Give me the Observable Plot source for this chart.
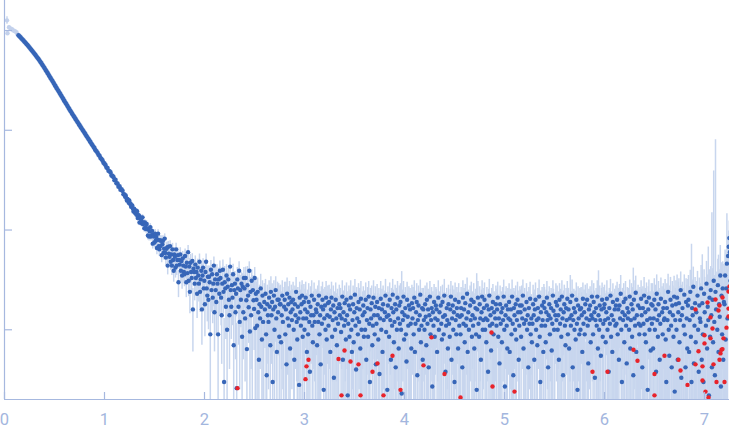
<!DOCTYPE html>
<html><head><meta charset="utf-8">
<script src="https://cdn.jsdelivr.net/npm/d3@7"></script>
<script src="https://cdn.jsdelivr.net/npm/@observablehq/plot@0.6"></script>
<style>html,body{margin:0;padding:0;background:#fff}</style>
</head><body><div id="chart"></div>
<script>
// axis ticks
const xTicks = [0, 1, 2, 3, 4, 5, 6, 7];
const yTicks = [1, 10, 100, 1000];

// excluded low-q points (pale)
const paleQ = [0.025, 0.03, 0.045, 0.06, 0.075, 0.09, 0.105, 0.12, 0.13];
const paleI = [1265, 940, 1080, 1050, 1030, 1000, 985, 960, 916];
const paleSigma = [110, 40, 30, 20, 15, 12, 10, 10, 9];

// smooth low-q part: q = 0.14 .. 1.19, step 0.01
const qA0 = 0.14, qAStep = 0.01;
const intensityA = [
895,874,854,833,813,793,773,753,733,714,694,675,657,638,620,602,585,567,550,533,
517,500,484,468,452,436,421,405,390,376,362,348,
335,323,311,299,288,277,266,256,247,238,229,220,212,204,196,189,182,175,168,162,
156,150.5,145,139.7,134.7,
130,125.4,121,116.7,112.6,108.7,104.9,101.2,97.6,94.2,90.9,87.7,84.6,81.6,78.8,76,73.3,70.7,68.3,
66.2,63.1,61.6,59.5,56.8,55.6,52.7,51.5,49.9,47.2,46.3,44.9,42.4,41.9,39.3,38.9,37.8,35.2,34.9,33.9,
31.6,31.8,29.4,29.3,27.2,27.5,25.4,25.6,24.7,22.8
];

// noisy part: q = 1.20 .. , step 0.006 (rows of 20 points)
const qB0 = 1.2, qBStep = 0.006;
const intensityB = [
22.7,21.6,22.2,20.9,19.8,20.5,19.9,18.8,19.8,18.3,18.5,17.1,17.4,17.6,16.3,15.3,16.4,15.8,14.7,15.6,
14.2,15.4,13.2,14.1,14.0,11.9,13.2,13.4,12.4,11.6,13.4,11.5,11.9,10.4,11.9,10.7,10.2,11.5,10.3,8.8,
10.3,8.6,9.7,10.7,8.6,8.9,9.8,7.3,9.0,8.6,7.5,9.2,7.8,8.5,6.6,8.0,9.2,6.9,6.4,7.9,
6.9,7.8,5.6,7.2,7.8,5.9,6.5,8.2,5.9,5.3,6.5,6.7,4.4,6.8,5.8,5.4,6.9,4.8,5.7,4.4,
6.4,5.0,3.9,5.7,5.4,4.2,6.4,4.4,5.0,5.6,3.0,5.0,4.5,5.7,3.9,4.9,3.5,5.2,4.4,3.8,
3.6,5.5,4.3,3.0,4.7,3.7,6.0,3.1,4.3,2.4,4.7,3.8,3.3,4.9,1.6,4.1,3.8,2.9,4.5,3.3,
3.8,2.3,4.2,3.5,2.9,4.8,2.4,3.2,3.9,1.6,3.5,4.2,2.6,3.1,1.8,3.8,4.8,2.6,2.2,3.4,
2.0,3.4,3.0,0.9,4.0,2.5,3.6,2.1,2.9,4.4,1.5,3.2,2.5,1.9,3.6,2.9,0.9,3.2,2.3,3.9,
3.3,2.1,1.4,2.9,4.0,2.4,0.3,3.0,2.6,1.7,3.5,1.0,2.7,3.2,2.0,1.4,4.3,2.5,1.7,2.8,
2.1,3.6,0.7,2.5,2.9,1.5,2.3,0.26,3.2,2.6,1.7,3.9,1.2,2.5,2.0,2.9,0.85,2.7,1.5,3.3,
2.6,1.3,3.3,1.98,0.64,2.8,2.2,1.68,3.9,0.96,2.4,1.4,3.1,0.07,2.5,1.98,1.62,3.3,1.04,2.3,
2.0,1.1,2.4,1.5,0.5,1.8,1.3,2.6,1.7,0.8,2.2,1.2,-0.1,1.9,1.6,2.3,0.9,0.35,1.8,1.4,
1.2,2.1,1.7,0.7,2.4,1.4,1.9,0.3,1.6,2.2,1.0,1.7,2.5,1.3,0.6,2.0,1.5,2.0,0.85,1.8,
1.8,0.75,1.4,2.2,1.2,-0.2,1.7,2.0,0.9,1.6,0.45,2.3,1.3,1.8,1.1,2.1,0.65,1.5,1.9,1.25,
1.6,2.0,1.0,0.5,1.8,1.4,2.4,1.2,0.8,1.7,1.3,0.28,2.1,1.5,1.1,1.8,2.2,0.85,1.3,1.9,
1.0,1.6,2.1,1.3,0.6,1.5,0.9,1.9,1.2,0.38,1.7,1.4,2.2,1.1,0.75,1.4,2.0,1.2,-0.3,1.6,
1.5,0.7,1.8,1.2,2.2,0.9,1.4,0.45,1.7,1.15,2.0,1.6,0.25,1.3,1.75,1.0,2.1,0.8,1.4,1.85,
1.1,1.9,1.35,0.6,1.6,2.1,0.85,1.25,1.75,0.33,1.5,1.0,2.0,1.3,0.7,1.65,1.15,-0.2,1.8,1.4,
1.65,0.95,1.3,2.15,0.5,1.5,1.1,1.85,1.25,0.8,2.0,1.4,0.22,1.15,1.75,0.85,1.6,2.1,1.0,0.6,
1.25,1.8,0.75,1.5,2.25,1.1,0.4,1.65,1.3,0.9,1.9,1.2,1.6,0.65,2.05,1.0,-0.25,1.4,1.75,0.85,
1.5,1.0,2.0,0.5,1.25,1.65,0.85,2.15,1.15,0.3,1.6,1.3,1.85,0.7,1.1,2.1,1.4,0.9,1.7,0.45,
1.15,1.9,1.4,0.8,1.65,0.36,1.3,2.05,1.0,1.6,0.6,1.8,1.25,-0.1,1.5,2.2,0.95,1.35,0.25,1.75,
1.4,0.85,2.0,1.25,0.5,1.65,1.1,2.25,1.5,0.75,1.2,1.8,0.42,1.6,1.0,2.1,1.3,0.65,1.75,1.15,
1.9,1.0,0.23,1.5,1.25,2.15,0.8,1.4,1.65,0.9,0.48,2.0,1.35,1.1,1.75,-0.3,1.6,1.15,0.65,1.85,
1.3,1.65,0.9,2.1,0.6,1.15,1.5,1.9,0.35,1.25,1.75,1.0,1.4,2.25,0.75,1.1,1.65,0.5,1.6,1.25,
1.0,1.8,1.35,0.7,2.0,1.15,1.6,0.42,1.4,2.15,0.9,1.25,1.65,0.27,1.5,1.1,1.9,0.85,1.3,1.75,
1.6,0.6,1.25,2.1,1.0,1.5,-0.2,1.75,1.15,0.8,1.9,1.35,0.9,2.2,1.4,0.38,1.1,1.65,1.25,0.65,
1.8,1.15,0.85,1.6,2.15,0.5,1.3,1.75,1.0,1.5,0.3,2.0,1.25,0.9,1.65,1.4,0.65,1.9,1.1,1.35,
0.9,1.65,1.4,0.42,2.1,1.15,1.6,0.75,1.85,1.1,1.3,2.3,0.6,1.5,1.0,-0.35,1.75,1.25,2.0,0.85,
1.4,1.1,1.9,0.65,1.3,1.65,0.9,0.25,1.6,2.1,1.15,0.85,1.8,1.3,0.5,1.5,2.15,1.0,1.25,1.65,
2.0,1.0,1.3,0.75,1.75,1.25,0.38,1.6,2.2,1.1,1.4,0.62,1.65,1.15,1.9,0.9,1.5,-0.1,1.3,1.8,
1.1,1.6,2.1,0.85,1.3,0.46,1.8,1.15,1.5,0.75,1.65,1.25,2.15,1.0,0.27,1.4,1.75,1.1,0.65,1.6,
1.3,1.9,0.6,1.25,1.6,0.9,2.15,1.15,0.35,1.65,1.4,1.0,1.8,0.8,1.25,2.0,1.5,0.5,1.1,1.75,
1.5,0.85,1.75,1.3,2.2,0.65,1.15,1.6,-0.25,1.25,1.9,1.0,1.4,0.42,1.65,1.15,2.05,0.9,1.3,0.75,
1.15,1.8,1.4,0.5,1.6,2.0,1.0,1.25,0.7,1.65,1.3,2.15,0.85,0.3,1.5,1.1,1.75,1.25,0.6,1.9,
1.65,1.1,0.75,1.5,2.1,1.25,0.42,1.4,1.8,0.9,1.3,1.65,0.62,1.15,2.2,1.55,1.0,-0.2,1.4,1.9,
1.25,1.75,1.0,1.4,0.5,2.0,1.15,1.6,0.85,2.15,1.3,0.35,1.5,1.8,1.1,0.7,1.65,1.25,2.05,0.9,
1.6,0.65,1.3,1.9,1.1,1.4,2.2,0.42,1.25,1.65,1.0,1.5,0.8,2.0,1.15,0.25,1.75,1.3,0.9,1.6,
1.0,1.65,1.4,0.6,2.05,1.15,1.5,0.9,1.8,-0.2,1.3,2.0,1.1,0.46,1.6,1.25,1.75,0.75,1.4,2.15,
1.3,0.9,1.9,1.5,0.33,1.25,1.65,1.1,2.15,0.65,1.4,1.0,1.75,1.25,0.55,1.6,2.0,0.85,1.15,1.65,
1.8,1.25,0.75,1.5,2.05,1.0,1.3,0.38,1.65,1.15,2.2,0.85,1.4,0.6,1.9,1.25,-0.3,1.6,1.1,1.75,
1.15,2.0,0.9,1.6,0.5,1.75,1.3,2.3,1.0,0.3,1.5,1.25,1.9,0.75,1.4,2.05,1.1,0.46,1.65,1.3,
1.5,1.0,2.15,0.65,1.25,1.8,0.85,1.6,0.35,2.0,1.3,1.1,2.35,0.6,1.4,-0.35,1.75,1.15,0.9,1.65,
1.1,2.05,1.4,0.42,1.65,1.15,2.2,0.9,1.5,0.75,1.9,1.25,0.25,1.6,2.1,1.0,1.3,0.62,1.8,1.15,
1.75,0.65,1.3,2.0,1.0,1.6,0.38,2.3,1.25,0.85,1.8,1.4,0.5,1.15,2.05,-0.2,1.5,0.9,1.65,1.25,
1.3,1.9,0.8,0.3,1.65,1.25,2.4,1.0,0.55,1.5,2.0,1.1,0.42,1.75,1.4,0.85,2.15,0.24,1.25,1.8,
1.0,2.1,0.5,1.5,1.85,0.75,1.25,2.5,0.33,1.4,1.65,-0.3,1.1,2.25,0.9,0.42,1.9,1.3,0.65,1.75,
2.0,0.6,1.25,2.4,0.85,0.3,1.65,1.4,2.7,0.46,1.1,1.85,0.75,1.5,-0.5,2.2,1.0,0.38,1.75,1.3,
1.2,2.6,0.5,1.85,0.9,0.3,2.3,1.5,-0.4,1.1,2.9,0.65,1.7,1.25,0.22,2.1,0.85,2.5,1.4,0.42,
2.0,0.75,3.1,1.2,0.35,2.4,1.6,-0.6,1.0,2.8,0.6,1.8,1.35,3.5,0.27,2.2,0.9,2.6,0.5,1.9,
1.8,3.5,0.8,2.6,4.6,1.3,5.5,6.8,8.3,6.0,3.1,1.5,4.2,2.0,5.0,0.9,3.6,2.4,6.5,1.7
];
const sigmaB = [
.8,.85,.8,.9,.85,.8,.85,.9,.8,.85,.9,.8,.85,.8,.9,.85,.8,.85,.9,.85,
.85,.9,.85,.8,.9,.85,.9,.85,.8,.9,.85,.9,.85,.9,.8,.85,.9,.85,.9,.85,
.9,.85,.9,.9,.85,.95,.9,.85,.9,.95,.85,.9,.9,.85,.95,.9,.85,.9,.95,.9,
.9,.95,.9,.85,.95,.9,.9,.95,.85,.9,.95,.9,.85,.9,.95,.9,.9,.85,.95,.9,
.95,.9,.9,.95,1,.9,.95,.9,.95,1,.9,.95,.9,.95,.9,1,.95,.9,.95,.9,
.9,.95,1,.9,.95,.9,1,.95,.9,.95,1,.9,.95,.9,1,.95,.9,.95,1,.9,
.95,1,.9,.95,1,.95,.9,1,.95,.9,1,.95,1,.9,.95,1,.95,.9,1,.95,
1,.95,.9,1,.95,1,.9,.95,1.2,.95,.9,1,.95,1,.9,.95,1,.95,.9,1,
.95,1,.95,.9,1,.95,1,1.3,.95,.9,1,.95,1,.9,.95,1,.95,1,.9,.95,
1,.95,.9,1,.95,1,.95,.9,1,.95,1,.9,.95,1,.95,.9,1,.95,1,.9,
.95,1,.95,1,.9,1.5,1,.95,.9,1,.95,1,.9,.95,1,.95,1,.9,.95,1,
1,.95,.9,1,.95,1,.9,1,.95,1,.9,1,.95,1,.95,.9,1,.95,1,.95,
.95,1,.95,.9,1,.95,1,.95,1,.9,1,.95,.9,1,.95,1,.95,.9,1,.95,
1,.95,1,.9,.95,1,.95,1,.9,1.4,.95,1,.95,.9,1,.95,1,.95,.9,1,
.95,1,.9,1,.95,1,.95,.9,1,.95,1,.95,.9,1,.95,1,.9,.95,1,.95,
1,.95,.9,1,.95,1,.95,1,.9,.95,1,.95,.9,1,.95,1,.95,.9,1,.95,
.95,1,.95,1,.9,.95,1,.95,1,.9,1,.95,1,.95,.9,1,.95,1,.95,.9,
1,.9,.95,1,.95,.9,1,.95,1,.95,.9,1,.95,1,.95,.9,1,.95,1,.95,
.95,1,.9,.95,1,.95,1,.9,.95,1,.95,1,.9,.95,1,.95,.9,1,.95,1,
1,.95,1,.9,.95,1,.95,1,.9,.95,1,.95,1,.9,1,.95,.9,1,.95,1,
.95,1,.95,1,.9,1,.95,.9,1,.95,1,.95,.9,1,.95,1,.9,.95,1,.95,
1,.95,.9,1,.95,1,.95,1,.9,.95,1,.95,1,.9,.95,1,.95,1,.9,.95,
.95,1,.95,.9,1,.95,1,.95,1,.9,.95,1,.95,1,.9,.95,1,.95,1,.95,
1,.95,3.6,1,.95,.9,1,.95,1,.95,.9,1,.95,1,.95,.9,1,.95,1,.95,
.95,1,.9,1,.95,1,.95,1,.9,.95,1,.95,1,.9,.95,1,.95,.9,1,.95,
1,.95,1,.9,.95,1,.95,1,.95,.9,1,.95,1,.95,.9,1,.95,1,.95,.9,
.95,1,.95,1,.95,.9,1,.95,1,.95,.9,1,.95,1,.95,1,.9,.95,1,.95,
1,.95,1,.95,.9,1,.95,1,.95,1,.9,.95,1,.95,1,.95,.9,1,.95,1,
.95,1,.95,.9,1,.95,1,.95,1,.9,.95,1,.95,1,.95,.9,1,.95,1,.95,
1,.95,1,.95,1,.9,.95,3.4,1,.95,1,.95,.9,1,.95,1,.95,.9,1,.95,
.95,1,.95,1,.9,.95,1,.95,1,.95,.9,1,.95,1,.95,1,.9,.95,1,.95,
1,.95,.9,1,.95,1,.95,1,.9,.95,1,.95,1,.95,.9,1,.95,1,.95,1,
.95,1,.95,1,.95,.9,1,.95,1,.95,1,.9,.95,1,.95,1,.95,.9,1,.95,
1,.95,1,.9,.95,1,.95,1,.95,.9,1,.95,1,.95,1,.9,.95,1,.95,1,
.95,1,.95,1,.9,.95,1,.95,1,.95,.9,1,.95,1,.95,1,.9,.95,1,.95,
1,.95,.9,1,.95,1,.95,1,.9,.95,1,.95,1,.95,.9,1,.95,1,.95,1,
.95,1,.95,1,.95,.9,1,.95,1,.95,1,.9,.95,1,.95,1,.95,.9,1,.95,
1,.95,1,1.6,.95,1,.95,1,.95,.9,1,.95,1,.95,1,.9,.95,1,.95,1,
.95,1,.95,1,.9,.95,1,.95,1,.95,1,.9,.95,1,.95,1,.95,.9,1,.95,
1,.95,1,.95,1,.9,.95,1,.95,1,2.5,.95,1,.95,.9,1,.95,1,.95,1,
1,1.05,1,.95,1.05,1,1.05,1,.95,1.05,1,1.05,1,.95,1,1.05,1,.95,1.05,1,
1.05,1,1.1,1,1.05,1.1,1,1.2,1.05,1,1.1,1.05,1,1.1,1.05,1,1.1,1.05,1,1.1,
1.1,1.05,1,1.1,1.05,1.1,1,1.05,3.8,1.1,1.05,1,1.1,1.05,1.1,1,1.05,1.1,1.05,1,
1.1,1.05,1.15,1.1,1.05,1.1,1.15,1.05,1.1,1.15,1.05,1.1,1.15,1.1,1.05,1.15,1.1,1.05,1.1,1.15,
1.15,1.2,1.1,1.25,1.15,1.2,1.1,1.25,1.2,1.15,1.25,1.2,1.1,1.2,1.25,1.15,1.2,1.1,1.25,1.2,
1.25,1.3,1.2,1.35,1.25,1.3,1.2,1.35,1.3,1.25,1.35,1.3,1.2,1.3,1.35,1.25,1.3,1.2,1.35,1.3,
1.35,1.45,1.3,1.5,1.4,1.35,1.45,1.3,1.5,1.4,1.35,1.45,1.5,1.3,1.4,1.45,1.35,1.5,1.4,1.45,
1.5,1.6,1.45,1.55,1.65,6.9,1.5,1.6,1.55,1.45,1.65,1.5,1.6,1.55,1.5,1.65,1.45,1.6,1.55,1.5,
1.7,1.8,1.65,3.8,1.75,1.9,1.7,1.85,1.65,1.8,1.95,1.7,1.85,5.5,1.75,1.9,1.7,1.8,1.85,14.5,
2.1,2.2,36,2.3,2.0,78,2.2,2.4,2.1,2.3,5,2.2,2.4,3.5,2.1,2.5,2.3,2.2,2.4,2.6,
2.6,2.8,2.5,3,10,2.7,2.9,3,4,2.8,2.6,3,2.9,2.7,3,2.8,2.6,3,2.9,2.7
];

// flagged points (red)
const redQ = [2.33,3.04,3.02,3.01,3.34,3.40,3.46,3.37,3.54,3.68,3.73,3.56,3.79,3.88,3.96,4.19,4.27,4.40,4.56,4.87,4.88,5.10,5.88,6.03,6.29,6.33,6.50,6.50,6.60,6.74,6.76,6.83,6.91,6.91,6.94,6.98,6.98,7.00,7.00,7.01,7.03,7.04,7.06,7.06,7.08,7.09,7.11,7.12,7.14,7.15,7.15,7.16,7.17,7.18,7.18,7.19,7.20,7.22,7.24,7.24,7.24,7.25];
const redI = [0.26,0.50,0.43,0.32,0.51,0.62,0.48,0.22,0.45,0.38,0.46,0.22,0.22,0.55,0.25,0.44,0.84,0.36,0.21,0.94,0.27,0.24,0.38,0.38,0.63,0.49,0.36,0.22,0.55,0.50,0.39,0.28,1.60,0.45,0.61,0.43,0.31,0.88,0.73,0.24,1.88,0.21,1.33,0.82,1.03,0.45,2.01,0.30,1.56,1.75,0.50,0.58,0.63,0.64,2.11,0.82,0.30,1.05,1.36,2.42,1.63,2.72];

// ---- build tables ----
const yMin = 0.2, yMax = 2000, xMax = 7.25;
const pale = paleQ.map((q, i) => ({q, I: paleI[i], s: paleSigma[i]}));
const dataA = intensityA.map((I, i) => ({q: qA0 + i * qAStep, I}));
const dataB = intensityB.map((I, i) => ({q: qB0 + i * qBStep, I, s: sigmaB[i]}));
const red = redQ.map((q, i) => ({q, I: redI[i]}));
const bars = dataB.concat(pale).filter(d => d.I + d.s > yMin).map(d => ({
  q: d.q, lo: Math.max(d.I - d.s, yMin), hi: d.I + d.s
}));

const axisColor = "#a6b8df";
const chart = Plot.plot({
  width: 729, height: 437,
  marginLeft: 4, marginRight: 0, marginTop: 0, marginBottom: 38,
  x: {domain: [0, xMax], axis: null},
  y: {type: "log", domain: [yMin, yMax], axis: null},
  style: {background: "#fff", fontFamily: "Roboto, sans-serif"},
  marks: [
    Plot.ruleX(bars, {x: "q", y1: "lo", y2: "hi", stroke: "#c8d6ee", strokeWidth: 1.5, clip: true}),
    Plot.dot(pale, {x: "q", y: "I", r: 2.2, fill: "#c3d1ec", clip: true}),
    Plot.dot(dataA, {x: "q", y: "I", r: 2.3, fill: "#3766b8"}),
    Plot.dot(dataB, {x: "q", y: "I", r: 2.2, fill: "#3766b8", clip: true}),
    Plot.dot(red, {x: "q", y: "I", r: 2.2, fill: "#e8232b", clip: true}),
    Plot.ruleX([0], {stroke: axisColor, strokeWidth: 1.2}),
    Plot.ruleY([yMin], {stroke: axisColor, strokeWidth: 1.2}),
    Plot.ruleX(xTicks, {x: d => d, y1: yMin, y2: yMin, insetTop: -7, stroke: axisColor, strokeWidth: 1.2}),
    Plot.ruleY(yTicks, {y: d => d, x1: 0, x2: 0, insetRight: -8, stroke: axisColor, strokeWidth: 1.2}),
    Plot.text(xTicks, {x: d => d, y: yMin, dy: 20, text: d => String(d), fill: "#a3b6de", fontSize: 16.5, lineAnchor: "middle"})
  ]
});
document.getElementById("chart").appendChild(chart);
</script>
</body></html>
